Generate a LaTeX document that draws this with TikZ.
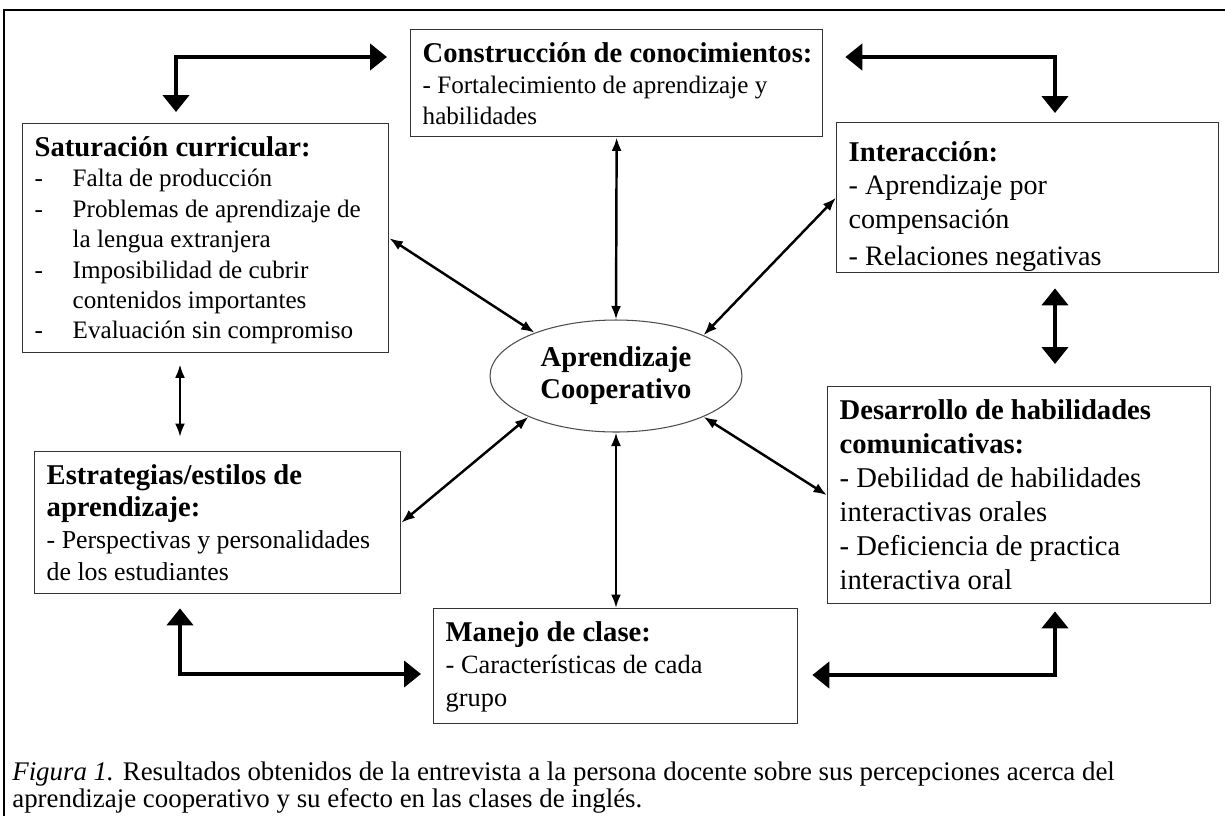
\documentclass[tikz,border=0pt]{standalone}
\usepackage{fontspec}
\setmainfont{Liberation Serif}
\usetikzlibrary{arrows.meta, shapes.geometric}

\newcommand{\bodyfont}[2]{\fontsize{#1}{#2}\selectfont}
\newcommand{\headfont}{\fontsize{16.3}{18.2}\selectfont\bfseries}
\newcommand{\boxhead}[1]{\mbox{\headfont\rule{0pt}{13pt}#1}}
\newcommand{\boxtext}[3]{\parbox[c][#2][t]{#1}{\raggedright #3}}

\tikzset{
	box/.style = {draw = black!80, line width = 0.8pt, anchor = north west, inner xsep = 0.24cm, inner ysep = 0.2cm},
	thin link/.style = {<->, line width = 1.4pt},
	big link/.style = {{Triangle[length = 0.34cm, width = 0.52cm]}-{Triangle[length = 0.34cm, width = 0.52cm]}, line width = 2.8pt}
}

\begin{document}
\begin{tikzpicture}[x = 0.02cm, y = -0.02cm, > = {Latex[length = 0.27cm, width = 0.2cm]}]

\useasboundingbox (0, 0) rectangle (1225, 816);

% The frame

\draw [line width = 1.1pt] (1225, 10) -- (4, 10) -- (4, 816);

% The boxes

\node [box, font = {\bodyfont{14.3}{17.6}}] (con) at (410, 29) {\boxtext{7.76cm}{1.74cm}{\boxhead{Construcción de conocimientos:}\\ - Fortalecimiento de aprendizaje y\\ habilidades}};

\node [box, font = {\bodyfont{14.3}{17.3}}] (sat) at (22, 123) {\boxtext{6.84cm}{4.18cm}{\boxhead{Saturación curricular:}\\
	\begin{tabular}[t]{@{}p{0.76cm}@{}l@{}}
		- & Falta de producción\\
		- & Problemas de aprendizaje de\\
		  & la lengua extranjera\\
		- & Imposibilidad de cubrir\\
		  & contenidos importantes\\
		- & Evaluación sin compromiso
	\end{tabular}}};

\node [box, inner ysep = 0.32cm, font = {\bodyfont{16}{19}}] (inter) at (836, 122) {\boxtext{7.16cm}{2.36cm}{\boxhead{Interacción:}\\ - Aprendizaje por\\ compensación\\[2pt] - Relaciones negativas}};

\node [box, font = {\bodyfont{14.7}{18.2}}] (est) at (34, 451) {\boxtext{6.84cm}{2.44cm}{\boxhead{Estrategias/estilos de}\\ \boxhead{aprendizaje:}\\ - Perspectivas y personalidades\\ de los estudiantes}};

\node [box, font = {\bodyfont{15}{18.4}}] (man) at (433, 608) {\boxtext{6.8cm}{1.9cm}{\boxhead{Manejo de clase:}\\ - Características de cada\\ grupo}};

\node [box, font = {\bodyfont{16.3}{19.3}}] (des) at (827, 386) {\boxtext{7.18cm}{3.94cm}{\boxhead{Desarrollo de habilidades}\\ \boxhead{comunicativas:}\\ - Debilidad de habilidades\\ interactivas orales\\ - Deficiencia de practica\\ interactiva oral}};

% The ellipse

\node [draw = black!70, line width = 0.6pt, ellipse, minimum width = 5.04cm, minimum height = 2.24cm, inner sep = 0pt, align = center, font = \headfont] (ell) at (616, 376) {Aprendizaje\\ Cooperativo};

% The caption

\node [anchor = north west, align = left, inner sep = 0pt, font = {\bodyfont{15.3}{15.6}}] (cap) at (12, 761) {\textit{Figura 1.} Resultados obtenidos de la entrevista a la persona docente sobre sus percepciones acerca del\\ aprendizaje cooperativo y su efecto en las clases de inglés.};

% Elbow corners

\coordinate (tl) at (176, 57);
\coordinate (tr) at (1055, 57);
\coordinate (bl) at (180, 674);
\coordinate (br) at (1055, 675);

% Thick connectors

\draw [big link] ([yshift = 0.22cm] sat.north -| tl) -- (tl) -- ([xshift = -0.46cm] con.west |- tl);
\draw [big link] ([xshift = 0.44cm] con.east |- tr) -- (tr) -- ([yshift = 0.18cm] inter.north -| tr);
\draw [big link] ([yshift = -0.3cm] inter.south -| tr) -- ([yshift = 0.44cm] des.north -| tr);
\draw [big link] ([yshift = -0.28cm] est.south -| bl) -- (bl) -- ([xshift = -0.24cm] man.west |- bl);
\draw [big link] ([xshift = 0.28cm] man.east |- br) -- (br) -- ([yshift = -0.14cm] des.south -| br);

% Thin connectors

\draw [thin link] (con.south) -- (ell.north);
\draw [thin link] (sat.east) -- (ell.152);
\draw [thin link] (inter.west) -- (ell.25);
\draw [thin link] (est.east) -- (ell.205);
\draw [thin link] (des.west) -- (ell.335);
\draw [thin link] (ell.south) -- (ell.south |- man.north);
\draw [thin link] ([yshift = -0.22cm] sat.south -| bl) -- ([yshift = 0.28cm] est.north -| bl);

\end{tikzpicture}
\end{document}
